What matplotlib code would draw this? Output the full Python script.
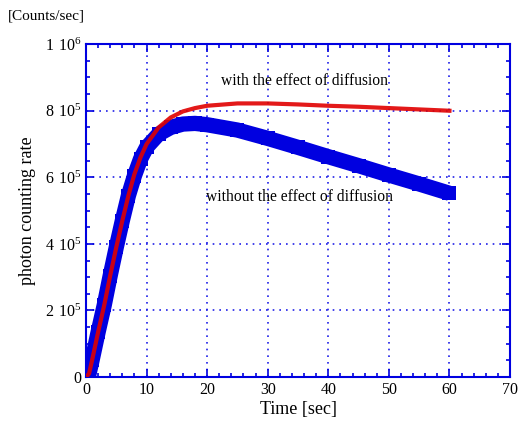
import matplotlib
matplotlib.use("Agg")
import matplotlib.pyplot as plt
from matplotlib.ticker import MultipleLocator, FixedLocator

plt.rcParams['font.family'] = ['Liberation Serif', 'DejaVu Serif']
plt.rcParams['mathtext.fontset'] = 'custom'
plt.rcParams['mathtext.rm'] = 'Liberation Serif'

# time [sec] and counting rate [counts/sec]
t_with = [0, 0.5, 1, 2, 3, 4, 5, 6, 7, 8, 9, 10, 12, 14, 16, 18, 20, 25, 30, 35, 40, 45, 50, 55, 60]
rate_with = [0, 1e4, 5e4, 1.35e5, 2.15e5, 3.05e5, 3.9e5, 4.7e5, 5.45e5, 6.1e5, 6.6e5, 7.0e5,
             7.5e5, 7.8e5, 7.98e5, 8.08e5, 8.15e5, 8.22e5, 8.22e5, 8.19e5, 8.15e5, 8.12e5,
             8.08e5, 8.04e5, 8.0e5]

t_without = [0, 0.5, 1, 2, 3, 4, 5, 6, 7, 8, 9, 10, 12, 14, 16, 18, 20, 25, 30, 35, 40, 45, 50, 55, 60]
rate_without = [0, 1e4, 5e4, 1.35e5, 2.15e5, 3.05e5, 3.9e5, 4.7e5, 5.45e5, 6.05e5, 6.55e5, 6.9e5,
                7.3e5, 7.5e5, 7.6e5, 7.62e5, 7.58e5, 7.42e5, 7.17e5, 6.9e5, 6.62e5, 6.35e5,
                6.07e5, 5.8e5, 5.52e5]

y_ticks = [0, 2e5, 4e5, 6e5, 8e5, 1e6]
y_labels = ['0', r'$\mathregular{2\ 10^5}$', r'$\mathregular{4\ 10^5}$',
            r'$\mathregular{6\ 10^5}$', r'$\mathregular{8\ 10^5}$', r'$\mathregular{1\ 10^6}$']

fig = plt.figure(figsize=(5.19, 4.24), dpi=100)
ax = fig.add_axes([0.1657, 0.1108, 0.817, 0.785])

ax.plot(t_without, rate_without, color='#0000e0', lw=11, solid_capstyle='butt',
        solid_joinstyle='round', marker='s', ms=10, mew=0, zorder=3)
ax.plot(t_with, rate_with, color='#e00000', lw=3.0, alpha=0.9, zorder=4)

ax.set_xlim(0, 70)
ax.set_ylim(0, 1e6)
ax.xaxis.set_major_locator(MultipleLocator(10))
ax.xaxis.set_minor_locator(MultipleLocator(2))
ax.yaxis.set_major_locator(FixedLocator(y_ticks))
ax.yaxis.set_minor_locator(MultipleLocator(5e4))
ax.set_yticklabels(y_labels)

for s in ax.spines.values():
    s.set_color('#0000e0')
    s.set_linewidth(1.5)
ax.tick_params(which='both', direction='in', top=True, right=True, color='#0000e0',
               labelsize=11.5, labelcolor='black')
ax.tick_params(which='major', length=6, width=1.2)
ax.tick_params(which='minor', length=3, width=1.2)
ax.grid(True, which='major', color='#2020e8', linestyle=(0, (1, 3)), linewidth=1.2)
ax.set_axisbelow(True)

ax.set_xlabel('Time [sec]', fontsize=13, labelpad=2)
ax.set_ylabel('photon counting rate', fontsize=13, labelpad=6)

ax.text(36, 8.9e5, 'with the effect of diffusion', ha='center', va='center', fontsize=11.2)
ax.text(35.3, 5.4e5, 'without the effect of diffusion', ha='center', va='center', fontsize=11.2)
fig.text(0.015, 0.955, '[Counts/sec]', fontsize=11)

fig.savefig('out.png', dpi=100)
